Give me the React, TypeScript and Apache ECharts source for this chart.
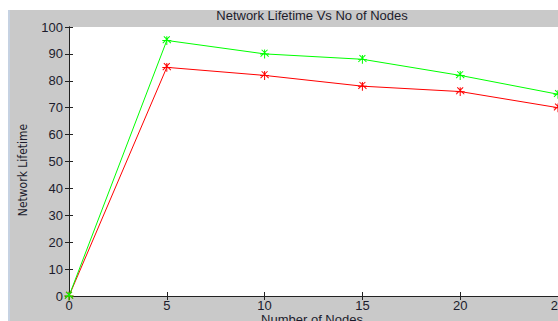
import React, { useEffect, useRef } from "react";
import * as echarts from "echarts";

const nodes = [0, 5, 10, 15, 20, 25];
const greenSeries = [0, 95, 90, 88, 82, 75];
const redSeries = [0, 85, 82, 78, 76, 70];
const titleText = "Network Lifetime Vs No of Nodes";
const xName = "Number of Nodes";
const yName = "Network Lifetime";

const star =
  "path://M4 0h1v9h-1z M0 4h9v1h-9z M1.2 0.5l0.7-0.7 7 7-0.7 0.7z M7.1 -0.2l0.7 0.7-7 7-0.7-0.7z";

export default function App() {
  const ref = useRef<HTMLDivElement>(null);
  useEffect(() => {
    if (!ref.current) return;
    const chart = echarts.init(ref.current, undefined, { renderer: "svg" });
    const font = "Liberation Sans, Arial, sans-serif";
    const labelColor = "#1c1c2c";
    chart.setOption({
      animation: false,
      backgroundColor: "#ffffff",
      graphic: [
        { type: "rect", z: -10, shape: { x: 8, y: 10, width: 3, height: 321 }, style: { fill: "#c6d2e2" } },
        { type: "rect", z: -10, shape: { x: 10, y: 10, width: 560, height: 321 }, style: { fill: "#c9c9c9" } },
        {
          type: "text",
          x: 312,
          y: 15,
          style: { text: titleText, font: "13px " + font, fill: labelColor, align: "center", verticalAlign: "middle" },
        },
        {
          type: "text",
          x: 312,
          y: 319,
          style: { text: xName, font: "13px " + font, fill: labelColor, align: "center", verticalAlign: "middle" },
        },
        {
          type: "text",
          x: 23,
          y: 170,
          rotation: Math.PI / 2,
          style: {
            text: yName,
            font: "12px 'Liberation Sans Narrow', 'DejaVu Sans Condensed', sans-serif",
            fill: labelColor,
            align: "center",
            verticalAlign: "middle",
          },
        },
      ],
      grid: {
        left: 69,
        top: 27,
        right: 0,
        bottom: 25,
        show: true,
        backgroundColor: "#ffffff",
        borderWidth: 0,
        containLabel: false,
        outerBoundsMode: "none",
      },
      xAxis: [
        {
          type: "value",
          min: 0,
          max: 25,
          interval: 5,
          position: "bottom",
          axisLine: { show: true, lineStyle: { color: "#222", width: 1 } },
          axisTick: { show: true, inside: true, length: 4, lineStyle: { color: "#222" } },
          axisLabel: { margin: 3, fontSize: 13, fontFamily: font, color: labelColor, hideOverlap: false },
          splitLine: { show: false },
        },
        {
          type: "value",
          min: 0,
          max: 25,
          interval: 5,
          position: "top",
          axisLine: { show: true, lineStyle: { color: "#222", width: 1 } },
          axisTick: { show: true, inside: true, length: 4, lineStyle: { color: "#222" } },
          axisLabel: { show: false },
          splitLine: { show: false },
        },
      ],
      yAxis: [
        {
          type: "value",
          min: 0,
          max: 100,
          interval: 10,
          position: "left",
          axisLine: { show: true, lineStyle: { color: "#222", width: 1 } },
          axisTick: { show: true, inside: true, length: 4, lineStyle: { color: "#222" } },
          axisLabel: { margin: 6, fontSize: 13, fontFamily: font, color: labelColor },
          splitLine: { show: false },
        },
        {
          type: "value",
          min: 0,
          max: 100,
          interval: 10,
          position: "right",
          axisLine: { show: true, lineStyle: { color: "#222", width: 1 } },
          axisTick: { show: true, inside: true, length: 4, lineStyle: { color: "#222" } },
          axisLabel: { show: false },
          splitLine: { show: false },
        },
      ],
      series: [
        {
          type: "line",
          data: nodes.map((n, i) => [n, redSeries[i]]),
          symbol: star,
          symbolSize: 9,
          showAllSymbol: true,
          lineStyle: { color: "#ff0000", width: 1 },
          itemStyle: { color: "#ff0000" },
          clip: false,
        },
        {
          type: "line",
          data: nodes.map((n, i) => [n, greenSeries[i]]),
          symbol: star,
          symbolSize: 9,
          showAllSymbol: true,
          lineStyle: { color: "#00ff00", width: 1 },
          itemStyle: { color: "#00ff00" },
          clip: false,
        },
      ],
    });
    return () => chart.dispose();
  }, []);
  return (
    <div
      ref={ref}
      style={{ position: "fixed", left: 0, top: 0, width: 558, height: 321 }}
    />
  );
}
